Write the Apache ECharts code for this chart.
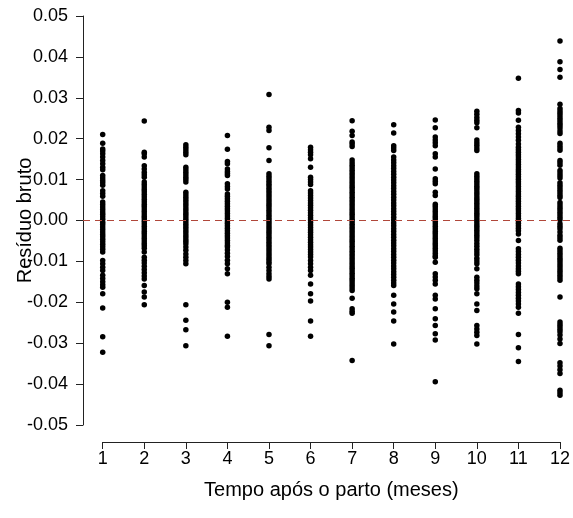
<!DOCTYPE html>
<html>
<head>
<meta charset="utf-8">
<script src="https://cdn.jsdelivr.net/npm/echarts@6/dist/echarts.min.js"></script>
<style>html,body{margin:0;padding:0;background:#fff}#c{width:573px;height:518px}</style>
</head>
<body>
<div id="c"></div>
<script>
var months = [1,2,3,4,5,6,7,8,9,10,11,12];
var xTicks = [1,2,3,4,5,6,7,8,9,10,11,12];
var yTicks = ['-0.05','-0.04','-0.03','-0.02','-0.01','0.00','0.01','0.02','0.03','0.04','0.05'];

var m1 = [0.0210,0.0189,0.0175,0.0170,0.0163,0.0155,0.0147,0.0139,0.0130,0.0124,
  0.0110,0.0104,0.0098,0.0092,0.0086,0.0073,0.0066,0.0059,
  0.0045,0.0039,0.0033,0.0027,0.0021,0.0015,0.0009,0.0003,-0.0004,
  -0.0010,-0.0016,-0.0022,-0.0028,-0.0034,-0.0040,-0.0046,-0.0052,-0.0058,-0.0064,-0.0070,-0.0077,
  -0.0098,-0.0106,-0.0114,-0.0122,-0.0134,-0.0142,-0.0150,-0.0157,-0.0163,
  -0.0179,-0.0214,-0.0284,-0.0322];
var m2 = [0.0243,0.0167,0.0163,0.0155,0.0134,0.0126,0.0118,0.0112,0.0106,
  0.0094,0.0088,0.0082,0.0076,0.0070,0.0064,0.0058,0.0052,0.0046,0.0040,0.0034,0.0028,0.0022,0.0016,0.0010,0.0004,
  -0.0002,-0.0008,-0.0014,-0.0020,-0.0026,-0.0032,-0.0038,-0.0044,-0.0050,-0.0056,-0.0062,-0.0068,-0.0077,
  -0.0090,-0.0097,-0.0104,-0.0112,-0.0120,-0.0128,-0.0136,-0.0143,
  -0.0159,-0.0175,-0.0187,-0.0206];
var m3 = [0.0185,0.0179,0.0173,0.0167,0.0161,0.0130,0.0124,0.0118,0.0112,0.0106,0.0100,0.0094,
  0.0069,0.0063,0.0057,0.0051,0.0045,0.0039,0.0033,0.0027,0.0021,0.0015,0.0009,0.0003,
  -0.0003,-0.0009,-0.0015,-0.0021,-0.0027,-0.0033,-0.0039,-0.0045,-0.0051,-0.0057,
  -0.0065,-0.0073,-0.0082,-0.0090,-0.0098,-0.0106,
  -0.0206,-0.0244,-0.0267,-0.0306];
var m4 = [0.0208,0.0174,0.0144,0.0139,0.0126,0.0120,0.0115,0.0110,0.0090,0.0083,0.0077,
  0.0065,0.0059,0.0053,0.0047,0.0041,0.0035,0.0029,0.0023,0.0017,0.0011,0.0005,
  -0.0001,-0.0007,-0.0013,-0.0019,-0.0025,-0.0031,-0.0037,-0.0043,-0.0049,-0.0055,-0.0061,-0.0065,
  -0.0072,-0.0080,-0.0088,-0.0097,-0.0106,-0.0118,-0.0130,
  -0.0200,-0.0212,-0.0283];
var m5 = [0.0308,0.0228,0.0220,0.0178,0.0147,0.0114,0.0108,0.0102,0.0096,0.0090,0.0085,
  0.0079,0.0073,0.0067,0.0061,0.0055,0.0049,0.0043,0.0037,0.0031,0.0025,0.0019,0.0013,0.0007,0.0001,
  -0.0005,-0.0011,-0.0017,-0.0023,-0.0029,-0.0035,-0.0041,-0.0047,-0.0053,-0.0059,-0.0065,-0.0071,
  -0.0077,-0.0083,-0.0089,-0.0095,-0.0101,-0.0106,
  -0.0114,-0.0122,-0.0130,-0.0137,-0.0143,
  -0.0279,-0.0306];
var m6 = [0.0179,0.0173,0.0167,0.0161,0.0151,0.0130,0.0106,0.0100,0.0094,0.0088,
  0.0073,0.0067,0.0061,0.0055,0.0049,0.0043,0.0037,0.0031,0.0025,0.0019,0.0013,0.0007,0.0001,
  -0.0005,-0.0011,-0.0017,-0.0023,-0.0029,-0.0035,-0.0041,-0.0047,-0.0053,-0.0059,-0.0065,-0.0071,
  -0.0077,-0.0083,-0.0089,-0.0098,
  -0.0106,-0.0114,-0.0122,-0.0134,-0.0155,-0.0179,-0.0197,-0.0246,-0.0283];
var m7 = [0.0244,0.0218,0.0208,0.0192,0.0187,0.0181,0.0148,
  0.0141,0.0135,0.0129,0.0123,0.0117,0.0111,0.0105,0.0099,0.0093,0.0087,0.0081,0.0075,0.0069,0.0063,
  0.0057,0.0051,0.0045,0.0039,0.0033,0.0027,0.0021,0.0015,0.0009,0.0003,
  -0.0003,-0.0009,-0.0015,-0.0021,-0.0027,-0.0033,-0.0039,-0.0045,-0.0051,-0.0057,-0.0063,-0.0069,
  -0.0075,-0.0081,-0.0087,-0.0093,-0.0099,-0.0105,-0.0111,-0.0117,-0.0123,-0.0129,-0.0135,-0.0141,
  -0.0147,-0.0153,-0.0159,-0.0165,-0.0171,
  -0.0190,-0.0216,-0.0222,-0.0227,-0.0342];
var m8 = [0.0234,0.0214,0.0183,0.0177,0.0171,
  0.0155,0.0148,0.0141,0.0134,0.0127,0.0120,0.0113,0.0106,0.0099,0.0092,0.0085,0.0078,0.0071,0.0064,
  0.0057,0.0050,0.0043,0.0036,0.0029,0.0022,0.0015,0.0008,0.0001,
  -0.0006,-0.0013,-0.0020,-0.0027,-0.0034,-0.0041,-0.0048,-0.0055,-0.0062,-0.0069,-0.0076,-0.0083,
  -0.0090,-0.0097,-0.0104,-0.0111,-0.0118,-0.0125,-0.0132,-0.0139,-0.0146,-0.0153,-0.0159,
  -0.0183,-0.0204,-0.0224,-0.0246,-0.0302];
var m9 = [0.0246,0.0227,0.0204,0.0197,0.0190,0.0183,0.0163,0.0155,0.0126,0.0102,0.0096,0.0090,0.0069,0.0061,
  0.0040,0.0034,0.0028,0.0022,0.0016,0.0010,0.0004,
  -0.0002,-0.0008,-0.0014,-0.0020,-0.0026,-0.0032,-0.0038,-0.0044,-0.0050,-0.0056,-0.0062,-0.0068,
  -0.0074,-0.0080,-0.0086,-0.0090,
  -0.0102,-0.0130,-0.0138,-0.0146,-0.0155,-0.0183,-0.0192,-0.0216,-0.0240,-0.0257,-0.0277,-0.0292,-0.0394];
var m10 = [0.0267,0.0260,0.0252,0.0245,0.0239,0.0227,0.0197,0.0190,0.0184,0.0177,0.0171,
  0.0114,0.0108,0.0102,0.0096,0.0090,0.0084,0.0078,0.0072,0.0066,0.0060,0.0054,0.0048,0.0042,0.0036,
  0.0030,0.0024,0.0018,0.0012,0.0006,0.0000,
  -0.0006,-0.0012,-0.0018,-0.0024,-0.0030,-0.0036,-0.0042,
  -0.0049,-0.0056,-0.0063,-0.0070,-0.0077,-0.0084,-0.0092,-0.0099,-0.0106,-0.0118,
  -0.0139,-0.0146,-0.0153,-0.0160,-0.0167,-0.0179,-0.0204,-0.0220,
  -0.0257,-0.0265,-0.0273,-0.0281,-0.0302];
var m11 = [0.0348,0.0269,0.0263,0.0245,0.0228,0.0220,0.0212,0.0204,0.0196,0.0187,
  0.0179,0.0173,0.0167,0.0161,0.0155,0.0149,0.0143,0.0137,0.0131,0.0125,0.0119,0.0113,0.0107,0.0101,
  0.0095,0.0089,0.0083,0.0077,0.0071,0.0065,0.0059,0.0053,0.0047,0.0041,0.0035,0.0029,0.0023,0.0017,
  0.0011,0.0005,-0.0001,-0.0007,-0.0013,-0.0019,-0.0025,-0.0033,
  -0.0049,-0.0069,-0.0076,-0.0083,-0.0090,-0.0097,-0.0104,-0.0111,-0.0118,-0.0124,-0.0130,
  -0.0155,-0.0162,-0.0169,-0.0176,-0.0183,-0.0190,-0.0197,-0.0204,-0.0212,-0.0227,
  -0.0279,-0.0311,-0.0345];
var m12 = [0.0439,0.0388,0.0369,0.0350,0.0284,0.0274,0.0268,0.0262,0.0256,0.0250,0.0244,0.0238,
  0.0232,0.0226,0.0219,0.0213,0.0189,0.0183,0.0177,0.0172,0.0147,0.0141,0.0135,0.0122,0.0116,
  0.0110,0.0104,0.0092,0.0086,0.0080,0.0074,0.0068,0.0062,0.0056,0.0044,0.0038,0.0032,0.0026,
  0.0020,0.0014,0.0008,0.0002,-0.0008,-0.0014,-0.0020,-0.0028,-0.0036,-0.0042,-0.0048,
  -0.0068,-0.0074,-0.0080,-0.0086,-0.0092,-0.0098,-0.0104,-0.0110,-0.0116,-0.0122,-0.0128,
  -0.0134,-0.0140,-0.0146,-0.0187,-0.0248,-0.0254,-0.0260,-0.0266,-0.0272,-0.0280,-0.0290,
  -0.0301,-0.0348,-0.0356,-0.0365,-0.0374,-0.0415,-0.0421,-0.0427];

var residuals = [m1,m2,m3,m4,m5,m6,m7,m8,m9,m10,m11,m12];
var points = [];
months.forEach(function(m, i){
  residuals[i].forEach(function(v){ points.push([m, v]); });
});

var FONT = 'Liberation Sans, Arial, sans-serif';
var chart = echarts.init(document.getElementById('c'), null, {renderer:'canvas'});
chart.setOption({
  animation: false,
  backgroundColor: '#fff',
  grid: [
    {left: 83, right: 0, top: 16, bottom: 93, containLabel: false, outerBoundsMode: 'none'},
    {left: 102.7, right: 13, top: 441, bottom: 76, containLabel: false, outerBoundsMode: 'none'}
  ],
  xAxis: [
    {gridIndex: 0, type: 'value', min: 0.526, max: 12.313, show: false},
    {gridIndex: 1, type: 'value', min: 1, max: 12, interval: 1, position: 'bottom',
     axisLine: {show: true, onZero: false, lineStyle: {color: '#222', width: 1}},
     axisTick: {show: true, length: 7, lineStyle: {color: '#222'}},
     axisLabel: {fontSize: 18, color: '#000', fontFamily: FONT, margin: 8,
       formatter: function(v){ return xTicks.indexOf(v) >= 0 ? String(v) : ''; }},
     splitLine: {show: false},
     name: 'Tempo após o parto (meses)', nameLocation: 'middle', nameGap: 38,
     nameMoveOverlap: false,
     nameTextStyle: {fontSize: 20, color: '#000', fontFamily: FONT}}
  ],
  yAxis: [
    {gridIndex: 0, type: 'value', min: -0.05, max: 0.05, interval: 0.01,
     axisLine: {show: true, onZero: false, lineStyle: {color: '#222', width: 1}},
     axisTick: {show: true, length: 7, lineStyle: {color: '#222'}},
     axisLabel: {fontSize: 18, color: '#000', fontFamily: FONT, margin: 15,
       formatter: function(v){ var s = v.toFixed(2); if (s === '-0.00') s = '0.00';
         return yTicks.indexOf(s) >= 0 ? s : ''; }},
     splitLine: {show: false},
     name: 'Resíduo bruto', nameLocation: 'middle', nameGap: 48, nameRotate: 90,
     nameMoveOverlap: false,
     nameTextStyle: {fontSize: 20, color: '#000', fontFamily: FONT}},
    {gridIndex: 1, type: 'value', show: false}
  ],
  series: [{
    type: 'scatter',
    xAxisIndex: 0, yAxisIndex: 0,
    data: points,
    symbolSize: 5.5,
    itemStyle: {color: '#000', opacity: 1},
    clip: false,
    markLine: {
      silent: true, symbol: 'none', label: {show: false},
      lineStyle: {color: '#b0473a', type: [7, 5], width: 1},
      data: [{yAxis: 0}]
    }
  }]
});
</script>
</body>
</html>
